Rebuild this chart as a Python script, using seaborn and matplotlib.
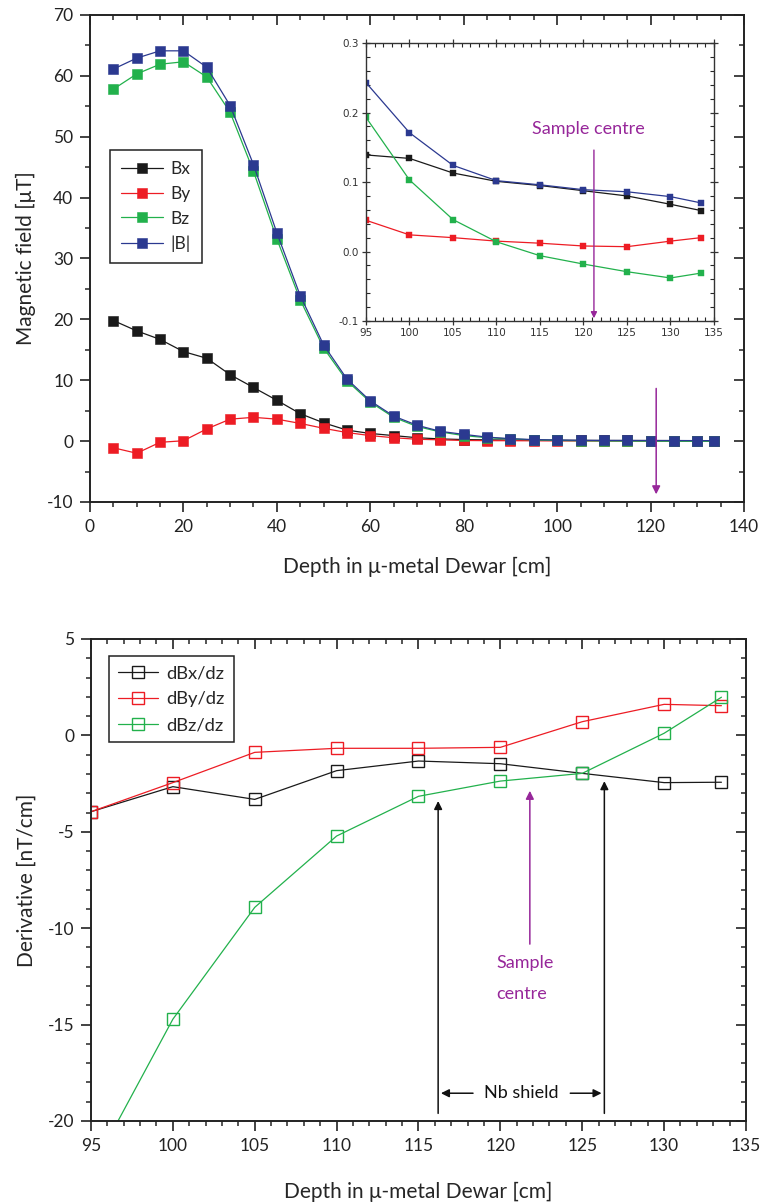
import matplotlib
matplotlib.use("Agg")
import matplotlib.pyplot as plt
import seaborn as sns
import pandas as pd
from matplotlib.ticker import MultipleLocator, FormatStrFormatter

# ---- field profile along the dewar axis (uT) ----
depth = [5, 10, 15, 20, 25, 30, 35, 40, 45, 50, 55, 60, 65, 70, 75, 80, 85, 90,
         95, 100, 105, 110, 115, 120, 125, 130, 133.5]
bx = [19.8, 18.1, 16.7, 14.7, 13.6, 10.9, 8.8, 6.7, 4.5, 3.0, 1.8, 1.25, 0.9, 0.55,
      0.35, 0.25, 0.2, 0.17, 0.139, 0.134, 0.113, 0.101, 0.095, 0.0875, 0.080, 0.068, 0.059]
by = [-1.1, -2.0, -0.2, 0.05, 2.0, 3.6, 3.9, 3.6, 2.9, 2.1, 1.4, 0.9, 0.55, 0.3,
      0.2, 0.1, 0.07, 0.06, 0.045, 0.024, 0.020, 0.015, 0.012, 0.008, 0.007, 0.015, 0.020]
bz = [57.8, 60.3, 61.9, 62.3, 59.8, 54.0, 44.3, 33.2, 23.2, 15.3, 9.9, 6.4, 3.9, 2.4,
      1.5, 0.9, 0.55, 0.35, 0.193, 0.103, 0.046, 0.014, -0.006, -0.018, -0.029, -0.038, -0.031]
bmag = [61.1, 62.9, 64.1, 64.1, 61.4, 55.1, 45.4, 34.2, 23.9, 15.8, 10.2, 6.6, 4.1, 2.6,
        1.6, 1.1, 0.65, 0.4, 0.243, 0.171, 0.124, 0.102, 0.096, 0.089, 0.086, 0.079, 0.070]
field_labels = ["Bx", "By", "Bz", "|B|"]

# ---- axial derivatives (nT/cm) ----
deriv_depth = [95, 100, 105, 110, 115, 120, 125, 130, 133.5]
dbx = [-3.96, -2.66, -3.32, -1.83, -1.33, -1.47, -1.97, -2.45, -2.43]
dby = [-3.96, -2.45, -0.88, -0.67, -0.67, -0.62, 0.71, 1.61, 1.54]
dbz = [-22.6, -14.72, -8.92, -5.22, -3.16, -2.37, -1.97, 0.11, 1.98]
deriv_labels = ["dBx/dz", "dBy/dz", "dBz/dz"]

sample_centre = 121.2
nb_shield = (116.2, 126.35)

colors = ["#1a1a1a", "#ED1C24", "#22B14C", "#2B3990"]
purple = "#97279A"

sns.set_theme(style="ticks")
plt.rcParams["font.family"] = ["Lato", "DejaVu Sans"]
plt.rcParams["axes.unicode_minus"] = False
plt.rcParams["axes.linewidth"] = 1.4

fig = plt.figure(figsize=(7.62, 12.02), dpi=100)
ax1 = fig.add_axes([0.1181, 0.5824, 0.8583, 0.4052])
ax2 = fig.add_axes([0.1194, 0.0674, 0.8596, 0.4010])
axin = fig.add_axes([0.4803, 0.7329, 0.4567, 0.2313])


def style_axes(ax, xmaj, xmin, ymaj, ymin, label_size):
    ax.xaxis.set_major_locator(MultipleLocator(xmaj))
    ax.xaxis.set_minor_locator(MultipleLocator(xmin))
    ax.yaxis.set_major_locator(MultipleLocator(ymaj))
    ax.yaxis.set_minor_locator(MultipleLocator(ymin))
    ax.tick_params(which="major", direction="out", length=7, width=1.2,
                   labelsize=label_size, colors="#222222", pad=5)
    ax.tick_params(which="minor", direction="out", length=3.5, width=1.1)
    for s in ax.spines.values():
        s.set_color("#222222")
        s.set_linewidth(1.4)
    # inward ticks on the top and right edges
    top = ax.secondary_xaxis("top")
    right = ax.secondary_yaxis("right")
    top.xaxis.set_major_locator(MultipleLocator(xmaj))
    top.xaxis.set_minor_locator(MultipleLocator(xmin))
    right.yaxis.set_major_locator(MultipleLocator(ymaj))
    right.yaxis.set_minor_locator(MultipleLocator(ymin))
    for sec in (top, right):
        sec.tick_params(which="major", direction="in", length=7, width=1.2,
                        labeltop=False, labelright=False, colors="#222222")
        sec.tick_params(which="minor", direction="in", length=3.5, width=1.1)
        for s in sec.spines.values():
            s.set_visible(False)


# ---- top panel ----
for vals, lab, c in zip([bx, by, bz, bmag], field_labels, colors):
    df = pd.DataFrame({"depth": depth, "B": vals})
    sns.lineplot(data=df, x="depth", y="B", ax=ax1, color=c, linewidth=0.9,
                 marker="s", markersize=6.5, markeredgecolor=c, markeredgewidth=0.4,
                 label=lab, legend=False)
ax1.set_xlim(0, 140)
ax1.set_ylim(-10, 70)
style_axes(ax1, 20, 5, 10, 5, 12.5)
ax1.set_xlabel("Depth in \u03bc-metal Dewar [cm]", fontsize=15, labelpad=16)
ax1.set_ylabel("Magnetic field [\u03bcT]", fontsize=15, labelpad=8)
h, l = ax1.get_legend_handles_labels()
leg1 = ax1.legend(h, l, loc="upper left", bbox_to_anchor=(0.0306, 0.7228),
                  borderaxespad=0, fontsize=12.5, handlelength=2.4, handletextpad=0.45,
                  labelspacing=0.5, fancybox=False, edgecolor="#222222",
                  framealpha=1, borderpad=0.65)
leg1.get_frame().set_linewidth(1.1)
ax1.annotate("", xy=(sample_centre, -9.2), xytext=(sample_centre, 9.1),
             arrowprops=dict(arrowstyle="-|>", color=purple, lw=1.1, mutation_scale=12))

# ---- inset: tail of the profile ----
tail = [i for i, d in enumerate(depth) if d >= 95]
for vals, c in zip([bx, by, bz, bmag], colors):
    df = pd.DataFrame({"depth": [depth[i] for i in tail], "B": [vals[i] for i in tail]})
    sns.lineplot(data=df, x="depth", y="B", ax=axin, color=c, linewidth=0.9,
                 marker="s", markersize=3.8, markeredgecolor=c, markeredgewidth=0.3,
                 legend=False)
axin.set_xlim(95, 135)
axin.set_ylim(-0.1, 0.3)
axin.xaxis.set_major_locator(MultipleLocator(5))
axin.xaxis.set_minor_locator(MultipleLocator(1))
axin.yaxis.set_major_locator(MultipleLocator(0.1))
axin.yaxis.set_minor_locator(MultipleLocator(0.02))
axin.yaxis.set_major_formatter(FormatStrFormatter("%.1f"))
axin.tick_params(which="major", direction="inout", length=6, width=0.9,
                 top=True, right=True, labelsize=7.5, pad=2, colors="#333333")
axin.tick_params(which="minor", direction="in", length=3, width=0.8,
                 top=True, right=True)
for lbl in axin.get_xticklabels() + axin.get_yticklabels():
    lbl.set_fontfamily("DejaVu Sans")
for s in axin.spines.values():
    s.set_linewidth(1.0)
    s.set_color("#333333")
axin.set_xlabel("")
axin.set_ylabel("")
axin.text(120.6, 0.176, "Sample centre", color=purple, fontsize=13,
          ha="center", va="center")
axin.annotate("", xy=(sample_centre, -0.1), xytext=(sample_centre, 0.15),
              arrowprops=dict(arrowstyle="-|>", color=purple, lw=1.0, mutation_scale=9))

# ---- bottom panel: derivatives ----
for vals, lab, c in zip([dbx, dby, dbz], deriv_labels, colors[:3]):
    df = pd.DataFrame({"depth": deriv_depth, "dB": vals})
    sns.lineplot(data=df, x="depth", y="dB", ax=ax2, color=c, linewidth=0.9,
                 marker="s", markersize=9, markerfacecolor="none",
                 markeredgecolor=c, markeredgewidth=1.0, label=lab, legend=False)
ax2.set_xlim(95, 135)
ax2.set_ylim(-20, 5)
style_axes(ax2, 5, 1, 5, 1, 12.5)
ax2.set_xlabel("Depth in \u03bc-metal Dewar [cm]", fontsize=15, labelpad=20)
ax2.set_ylabel("Derivative [nT/cm]", fontsize=15, labelpad=8)
h, l = ax2.get_legend_handles_labels()
leg2 = ax2.legend(h, l, loc="upper left", bbox_to_anchor=(0.0275, 0.9647),
                  borderaxespad=0, fontsize=13.2, handlelength=2.2, handletextpad=0.45,
                  labelspacing=0.55, fancybox=False, edgecolor="#222222",
                  framealpha=1, borderpad=0.5)
leg2.get_frame().set_linewidth(1.1)

# Nb shield extent
ax2.annotate("", xy=(nb_shield[0], -3.26), xytext=(nb_shield[0], -19.75),
             arrowprops=dict(arrowstyle="-|>", color="#111111", lw=1.1, mutation_scale=12))
ax2.annotate("", xy=(nb_shield[1], -2.23), xytext=(nb_shield[1], -19.75),
             arrowprops=dict(arrowstyle="-|>", color="#111111", lw=1.1, mutation_scale=12))
ax2.text(121.3, -18.56, "Nb shield", fontsize=13, ha="center", va="center", color="#111111")
ax2.annotate("", xy=(nb_shield[0], -18.56), xytext=(118.5, -18.56),
             arrowprops=dict(arrowstyle="-|>", color="#111111", lw=1.1, mutation_scale=12))
ax2.annotate("", xy=(nb_shield[1], -18.56), xytext=(124.1, -18.56),
             arrowprops=dict(arrowstyle="-|>", color="#111111", lw=1.1, mutation_scale=12))

# sample position
ax2.annotate("", xy=(121.8, -2.73), xytext=(121.8, -10.97),
             arrowprops=dict(arrowstyle="-|>", color=purple, lw=1.1, mutation_scale=12))
ax2.text(119.75, -11.8, "Sample", color=purple, fontsize=13, ha="left", va="center")
ax2.text(119.75, -13.4, "centre", color=purple, fontsize=13, ha="left", va="center")

fig.savefig("out.png", dpi=100)
